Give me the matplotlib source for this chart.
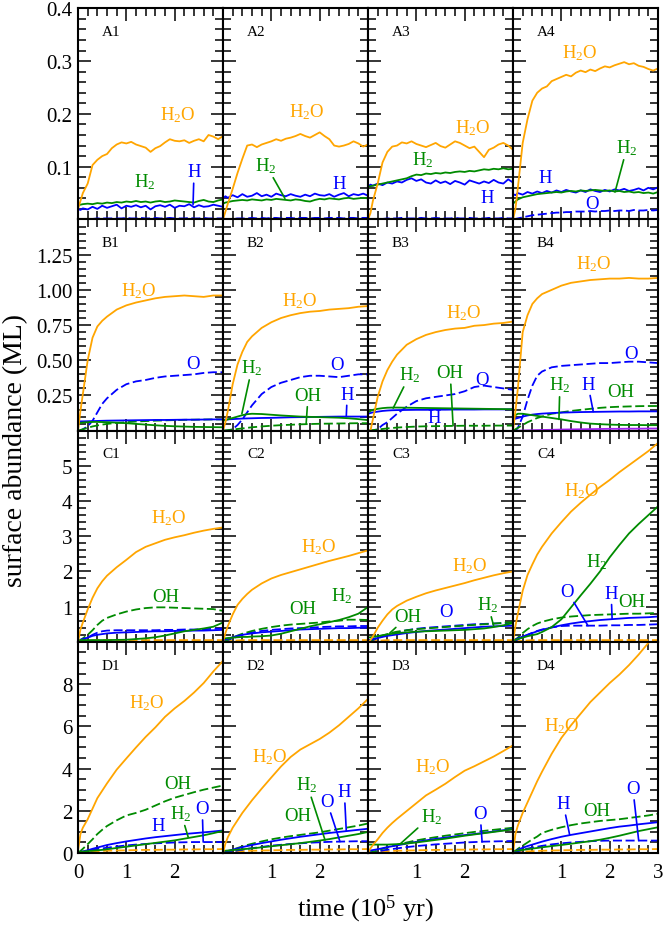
import matplotlib.pyplot as plt
from matplotlib.ticker import MultipleLocator

plt.rcParams['font.family'] = ['Liberation Serif', 'DejaVu Serif']
plt.rcParams['mathtext.fontset'] = 'custom'
plt.rcParams['mathtext.rm'] = 'Liberation Serif'
plt.rcParams['mathtext.it'] = 'Liberation Serif:italic'
plt.rcParams['mathtext.default'] = 'regular'

# time grids (10^5 yr)
TA = [0, 0.05, 0.1, 0.2, 0.3, 0.4, 0.5, 0.6, 0.7, 0.8, 0.9, 1.0, 1.1, 1.2, 1.3, 1.4,
      1.5, 1.6, 1.7, 1.8, 1.9, 2.0, 2.1, 2.2, 2.3, 2.4, 2.5, 2.6, 2.7, 2.8, 2.9, 3.0]
TS = [0, 0.05, 0.1, 0.2, 0.3, 0.4, 0.5, 0.6, 0.8, 1.0, 1.2, 1.4, 1.6, 1.8, 2.0, 2.2,
      2.4, 2.6, 2.8, 3.0]

# row A (noisy, on TA)
A1_H2O = [0.02, 0.035, 0.05, 0.068, 0.103, 0.113, 0.12, 0.124, 0.135, 0.142, 0.146, 0.144, 0.147, 0.142, 0.139, 0.136,
          0.128, 0.135, 0.139, 0.146, 0.152, 0.149, 0.148, 0.15, 0.145, 0.149, 0.152, 0.148, 0.16, 0.157, 0.152, 0.158]
A1_H2 = [0.027, 0.028, 0.029, 0.030, 0.029, 0.031, 0.030, 0.032, 0.031, 0.033, 0.032, 0.034, 0.033, 0.035, 0.033, 0.034,
         0.032, 0.034, 0.035, 0.033, 0.034, 0.036, 0.035, 0.034, 0.033, 0.032, 0.035, 0.037, 0.034, 0.033, 0.036, 0.038]
A1_H = [0.020, 0.018, 0.021, 0.019, 0.024, 0.020, 0.026, 0.022, 0.025, 0.028, 0.021, 0.026, 0.024, 0.027, 0.023, 0.026,
        0.019, 0.025, 0.027, 0.024, 0.028, 0.022, 0.026, 0.025, 0.029, 0.023, 0.027, 0.024, 0.025, 0.028, 0.026, 0.024]
A1_O = [0, 0, 0.001, 0.001, 0.001, 0.002, 0.002, 0.002, 0.002, 0.002, 0.002, 0.003, 0.002, 0.002, 0.003, 0.002,
        0.002, 0.003, 0.002, 0.002, 0.003, 0.002, 0.002, 0.002, 0.003, 0.002, 0.002, 0.003, 0.002, 0.002, 0.002, 0.002]

A2_H2O = [0, 0.015, 0.03, 0.058, 0.088, 0.115, 0.14, 0.142, 0.137, 0.142, 0.145, 0.148, 0.152, 0.149, 0.153, 0.155,
          0.158, 0.162, 0.158, 0.155, 0.16, 0.165, 0.158, 0.152, 0.14, 0.138, 0.14, 0.143, 0.148, 0.144, 0.138, 0.142]
A2_H2 = [0.03, 0.032, 0.033, 0.035, 0.036, 0.037, 0.036, 0.038, 0.037, 0.036, 0.038, 0.037, 0.039, 0.038, 0.037, 0.036,
         0.038, 0.037, 0.035, 0.034, 0.037, 0.039, 0.038, 0.04, 0.039, 0.038, 0.04, 0.041, 0.039, 0.04, 0.041, 0.04]
A2_H = [0.04, 0.044, 0.041, 0.046, 0.042, 0.048, 0.043, 0.045, 0.05, 0.044, 0.047, 0.043, 0.049, 0.046, 0.044, 0.048,
        0.045, 0.043, 0.047, 0.044, 0.049, 0.046, 0.045, 0.048, 0.043, 0.047, 0.05, 0.044, 0.048, 0.046, 0.049, 0.045]
A2_O = [0, 0, 0.001, 0.001, 0.002, 0.002, 0.002, 0.003, 0.002, 0.003, 0.002, 0.003, 0.003, 0.002, 0.003, 0.003,
        0.002, 0.003, 0.003, 0.002, 0.003, 0.003, 0.002, 0.003, 0.003, 0.003, 0.002, 0.003, 0.003, 0.002, 0.003, 0.003]

A3_H2O = [0, 0.012, 0.035, 0.068, 0.108, 0.128, 0.138, 0.14, 0.146, 0.144, 0.148, 0.143, 0.14, 0.137, 0.141, 0.145,
          0.139, 0.136, 0.142, 0.148, 0.145, 0.14, 0.135, 0.138, 0.128, 0.118, 0.132, 0.136, 0.142, 0.145, 0.14, 0.132]
A3_H2 = [0.062, 0.063, 0.064, 0.066, 0.068, 0.07, 0.072, 0.074, 0.076, 0.078, 0.082, 0.085, 0.084, 0.087, 0.086, 0.088,
         0.087, 0.089, 0.088, 0.09, 0.091, 0.09, 0.092, 0.091, 0.093, 0.095, 0.094, 0.096, 0.095, 0.097, 0.095, 0.096]
A3_H = [0.062, 0.066, 0.064, 0.068, 0.065, 0.07, 0.068, 0.072, 0.07, 0.075, 0.078, 0.073, 0.076, 0.07, 0.068, 0.074,
        0.069, 0.072, 0.067, 0.073, 0.07, 0.066, 0.074, 0.071, 0.068, 0.072, 0.069, 0.075, 0.07, 0.068, 0.076, 0.07]
A3_O = [0, 0, 0.001, 0.001, 0.001, 0.002, 0.002, 0.002, 0.003, 0.002, 0.002, 0.002, 0.003, 0.002, 0.002, 0.003,
        0.002, 0.002, 0.002, 0.003, 0.002, 0.002, 0.003, 0.002, 0.002, 0.002, 0.003, 0.002, 0.002, 0.003, 0.002, 0.002]

A4_H2O = [0, 0.02, 0.06, 0.145, 0.19, 0.225, 0.24, 0.248, 0.252, 0.262, 0.266, 0.27, 0.274, 0.271, 0.278, 0.282,
          0.279, 0.284, 0.281, 0.286, 0.29, 0.288, 0.292, 0.295, 0.298, 0.294, 0.296, 0.291, 0.289, 0.285, 0.282, 0.286]
A4_H2 = [0.03, 0.034, 0.038, 0.042, 0.044, 0.046, 0.048, 0.049, 0.05, 0.051, 0.052, 0.051, 0.053, 0.054, 0.053, 0.055,
         0.054, 0.055, 0.056, 0.055, 0.054, 0.055, 0.053, 0.054, 0.052, 0.053, 0.051, 0.052, 0.05, 0.051, 0.049, 0.052]
A4_H = [0.048, 0.046, 0.05, 0.047, 0.052, 0.049, 0.053, 0.05, 0.054, 0.051, 0.055, 0.052, 0.056, 0.053, 0.051, 0.055,
        0.052, 0.057, 0.054, 0.052, 0.056, 0.053, 0.057, 0.055, 0.058, 0.054, 0.056, 0.059, 0.055, 0.06, 0.057, 0.061]
A4_O = [0, 0.001, 0.002, 0.004, 0.006, 0.008, 0.009, 0.01, 0.011, 0.012, 0.013, 0.013, 0.014, 0.014, 0.015, 0.015,
        0.015, 0.016, 0.015, 0.016, 0.016, 0.017, 0.016, 0.017, 0.017, 0.016, 0.018, 0.017, 0.017, 0.018, 0.017, 0.018]

# rows B-D (on TS)
B1_H2O = [0, 0.14, 0.26, 0.5, 0.66, 0.74, 0.78, 0.81, 0.86, 0.89, 0.91, 0.925, 0.94, 0.95, 0.955, 0.96, 0.955, 0.95, 0.96, 0.96]
B1_O = [0, 0, 0.01, 0.03, 0.07, 0.13, 0.19, 0.23, 0.29, 0.33, 0.35, 0.36, 0.375, 0.385, 0.39, 0.395, 0.4, 0.41, 0.415, 0.415]
B1_H = [0.065, 0.066, 0.066, 0.067, 0.068, 0.069, 0.07, 0.071, 0.072, 0.073, 0.074, 0.075, 0.076, 0.076, 0.077, 0.078, 0.078, 0.079, 0.08, 0.08]
B1_H2 = [0.05, 0.055, 0.058, 0.06, 0.062, 0.062, 0.061, 0.06, 0.057, 0.053, 0.048, 0.043, 0.038, 0.034, 0.031, 0.029, 0.027, 0.026, 0.025, 0.024]
B1_OH = [0, 0.005, 0.01, 0.02, 0.03, 0.037, 0.043, 0.048, 0.055, 0.06, 0.065, 0.068, 0.071, 0.073, 0.075, 0.077, 0.078, 0.079, 0.08, 0.08]

B2_H2O = [0, 0.06, 0.14, 0.33, 0.47, 0.56, 0.63, 0.67, 0.73, 0.77, 0.8, 0.82, 0.835, 0.845, 0.85, 0.86, 0.865, 0.87, 0.88, 0.885]
B2_O = [0, 0, 0, 0.01, 0.04, 0.08, 0.13, 0.18, 0.26, 0.31, 0.34, 0.36, 0.38, 0.39, 0.39, 0.385, 0.38, 0.39, 0.4, 0.4]
B2_H2 = [0.07, 0.075, 0.08, 0.09, 0.1, 0.11, 0.117, 0.12, 0.118, 0.113, 0.108, 0.104, 0.1, 0.098, 0.096, 0.094, 0.092, 0.088, 0.082, 0.075]
B2_H = [0.078, 0.079, 0.08, 0.082, 0.084, 0.086, 0.087, 0.088, 0.09, 0.091, 0.093, 0.095, 0.096, 0.097, 0.098, 0.099, 0.1, 0.1, 0.1, 0.1]
B2_OH = [0, 0.002, 0.004, 0.008, 0.012, 0.016, 0.02, 0.024, 0.03, 0.035, 0.039, 0.042, 0.045, 0.047, 0.049, 0.05, 0.051, 0.052, 0.053, 0.053]

B3_H2O = [0, 0, 0.08, 0.24, 0.35, 0.43, 0.49, 0.54, 0.61, 0.65, 0.68, 0.7, 0.715, 0.725, 0.73, 0.745, 0.75, 0.76, 0.765, 0.775]
B3_O = [0, 0, 0, 0.01, 0.04, 0.06, 0.09, 0.12, 0.17, 0.21, 0.23, 0.24, 0.25, 0.26, 0.28, 0.31, 0.32, 0.31, 0.3, 0.29]
B3_H2 = [0.13, 0.14, 0.148, 0.155, 0.16, 0.163, 0.164, 0.164, 0.163, 0.162, 0.161, 0.16, 0.159, 0.158, 0.157, 0.156, 0.155, 0.154, 0.153, 0.152]
B3_H = [0.12, 0.125, 0.13, 0.135, 0.14, 0.143, 0.145, 0.146, 0.147, 0.148, 0.148, 0.149, 0.149, 0.15, 0.15, 0.15, 0.151, 0.151, 0.151, 0.152]
B3_OH = [0, 0.002, 0.004, 0.008, 0.012, 0.016, 0.019, 0.022, 0.026, 0.029, 0.031, 0.032, 0.033, 0.034, 0.035, 0.035, 0.035, 0.036, 0.036, 0.036]

B4_H2O = [0, 0.14, 0.3, 0.7, 0.82, 0.9, 0.94, 0.97, 1.0, 1.03, 1.05, 1.06, 1.07, 1.075, 1.08, 1.08, 1.085, 1.08, 1.08, 1.085]
B4_O = [0, 0, 0.02, 0.1, 0.22, 0.32, 0.39, 0.42, 0.45, 0.46, 0.465, 0.47, 0.475, 0.48, 0.48, 0.485, 0.49, 0.49, 0.485, 0.48]
B4_H = [0.08, 0.085, 0.09, 0.1, 0.108, 0.114, 0.118, 0.121, 0.125, 0.128, 0.13, 0.132, 0.133, 0.134, 0.135, 0.136, 0.136, 0.137, 0.137, 0.137]
B4_H2 = [0.1, 0.11, 0.12, 0.12, 0.115, 0.11, 0.105, 0.1, 0.09, 0.08, 0.068, 0.058, 0.05, 0.046, 0.043, 0.041, 0.04, 0.04, 0.039, 0.039]
B4_OH = [0, 0.01, 0.02, 0.04, 0.06, 0.075, 0.09, 0.1, 0.12, 0.13, 0.14, 0.148, 0.155, 0.162, 0.167, 0.17, 0.172, 0.174, 0.175, 0.175]
B4_MINOR = [0, 0, 0, 0.001, 0.002, 0.003, 0.004, 0.005, 0.006, 0.008, 0.009, 0.01, 0.011, 0.012, 0.013, 0.013, 0.014, 0.014, 0.015, 0.015]

C1_H2O = [0, 0.35, 0.55, 0.92, 1.25, 1.52, 1.72, 1.88, 2.12, 2.33, 2.55, 2.7, 2.8, 2.9, 2.97, 3.03, 3.1, 3.16, 3.21, 3.25]
C1_OH = [0, 0.05, 0.1, 0.2, 0.33, 0.48, 0.6, 0.68, 0.78, 0.86, 0.92, 0.96, 0.98, 0.98, 0.97, 0.96, 0.95, 0.94, 0.93, 0.88]
C1_H = [0.05, 0.06, 0.08, 0.12, 0.17, 0.2, 0.22, 0.24, 0.26, 0.27, 0.28, 0.29, 0.3, 0.3, 0.31, 0.31, 0.32, 0.32, 0.33, 0.34]
C1_O = [0, 0.02, 0.05, 0.12, 0.2, 0.26, 0.3, 0.32, 0.33, 0.33, 0.33, 0.33, 0.33, 0.34, 0.34, 0.35, 0.35, 0.36, 0.37, 0.38]
C1_H2 = [0.05, 0.05, 0.05, 0.05, 0.05, 0.05, 0.05, 0.05, 0.055, 0.06, 0.08, 0.1, 0.13, 0.18, 0.24, 0.3, 0.34, 0.38, 0.43, 0.55]

C2_H2O = [0, 0.25, 0.45, 0.78, 1.05, 1.22, 1.36, 1.48, 1.66, 1.8, 1.9, 1.98, 2.06, 2.14, 2.22, 2.3, 2.37, 2.44, 2.52, 2.6]
C2_H2 = [0.1, 0.1, 0.11, 0.12, 0.13, 0.14, 0.14, 0.15, 0.16, 0.18, 0.23, 0.3, 0.37, 0.44, 0.5, 0.56, 0.62, 0.7, 0.8, 0.99]
C2_OH = [0, 0.03, 0.06, 0.12, 0.18, 0.23, 0.27, 0.31, 0.37, 0.42, 0.46, 0.49, 0.51, 0.53, 0.55, 0.58, 0.6, 0.63, 0.63, 0.62]
C2_H = [0.05, 0.07, 0.09, 0.13, 0.17, 0.2, 0.22, 0.24, 0.27, 0.29, 0.31, 0.33, 0.35, 0.36, 0.37, 0.38, 0.39, 0.39, 0.4, 0.4]
C2_O = [0, 0.02, 0.05, 0.1, 0.15, 0.2, 0.24, 0.27, 0.31, 0.34, 0.36, 0.38, 0.39, 0.4, 0.42, 0.43, 0.44, 0.44, 0.45, 0.45]

C3_H2O = [0, 0.05, 0.15, 0.4, 0.6, 0.78, 0.92, 1.02, 1.17, 1.28, 1.38, 1.46, 1.53, 1.6, 1.67, 1.75, 1.82, 1.89, 1.95, 2.0]
C3_H2 = [0.12, 0.13, 0.14, 0.16, 0.19, 0.21, 0.23, 0.25, 0.27, 0.29, 0.3, 0.31, 0.32, 0.33, 0.34, 0.36, 0.38, 0.42, 0.47, 0.53]
C3_OH = [0, 0.03, 0.06, 0.12, 0.18, 0.22, 0.26, 0.29, 0.33, 0.36, 0.38, 0.4, 0.42, 0.44, 0.46, 0.48, 0.5, 0.52, 0.54, 0.56]
C3_H = [0.05, 0.06, 0.08, 0.11, 0.14, 0.17, 0.19, 0.21, 0.25, 0.28, 0.31, 0.33, 0.35, 0.37, 0.39, 0.41, 0.43, 0.44, 0.45, 0.46]
C3_O = [0, 0.02, 0.05, 0.1, 0.16, 0.2, 0.24, 0.27, 0.33, 0.37, 0.4, 0.42, 0.44, 0.46, 0.48, 0.5, 0.51, 0.52, 0.53, 0.54]

C4_H2O = [0, 0.45, 0.8, 1.45, 1.9, 2.2, 2.48, 2.7, 3.08, 3.4, 3.7, 3.95, 4.18, 4.4, 4.6, 4.82, 5.02, 5.22, 5.42, 5.65]
C4_H2 = [0.05, 0.06, 0.08, 0.12, 0.16, 0.19, 0.22, 0.28, 0.42, 0.64, 0.98, 1.32, 1.65, 2.0, 2.4, 2.75, 3.08, 3.35, 3.6, 3.85]
C4_OH = [0, 0.06, 0.12, 0.25, 0.36, 0.45, 0.52, 0.57, 0.64, 0.69, 0.72, 0.74, 0.76, 0.77, 0.78, 0.79, 0.8, 0.8, 0.81, 0.82]
C4_H = [0.05, 0.07, 0.1, 0.15, 0.2, 0.25, 0.3, 0.34, 0.41, 0.47, 0.52, 0.56, 0.59, 0.62, 0.64, 0.66, 0.68, 0.69, 0.7, 0.72]
C4_O = [0, 0.03, 0.07, 0.14, 0.2, 0.26, 0.31, 0.35, 0.41, 0.45, 0.46, 0.46, 0.46, 0.46, 0.47, 0.47, 0.48, 0.48, 0.49, 0.5]

C_MINOR = [0, 0.01, 0.02, 0.03, 0.04, 0.05, 0.05, 0.05, 0.05, 0.05, 0.05, 0.05, 0.05, 0.05, 0.05, 0.05, 0.05, 0.05, 0.05, 0.05]

D1_H2O = [0.1, 0.9, 1.2, 1.6, 2.1, 2.6, 2.95, 3.3, 3.95, 4.48, 5.0, 5.5, 5.95, 6.45, 6.85, 7.2, 7.6, 8.05, 8.6, 9.1]
D1_OH = [0, 0.1, 0.2, 0.42, 0.65, 0.9, 1.1, 1.28, 1.55, 1.78, 1.9, 2.05, 2.25, 2.45, 2.62, 2.75, 2.88, 3.0, 3.1, 3.2]
D1_H = [0.05, 0.06, 0.08, 0.13, 0.2, 0.26, 0.32, 0.38, 0.47, 0.55, 0.62, 0.69, 0.75, 0.8, 0.85, 0.9, 0.94, 0.98, 1.02, 1.07]
D1_H2 = [0.05, 0.06, 0.07, 0.09, 0.11, 0.13, 0.15, 0.18, 0.24, 0.3, 0.36, 0.42, 0.48, 0.54, 0.6, 0.68, 0.76, 0.84, 0.94, 1.05]
D1_O = [0, 0.02, 0.05, 0.1, 0.15, 0.19, 0.22, 0.25, 0.31, 0.36, 0.4, 0.43, 0.46, 0.48, 0.5, 0.51, 0.52, 0.52, 0.52, 0.52]

D2_H2O = [0, 0.45, 0.75, 1.2, 1.55, 1.9, 2.2, 2.5, 3.05, 3.58, 4.1, 4.55, 4.9, 5.15, 5.4, 5.7, 6.05, 6.45, 6.85, 7.3]
D2_OH = [0, 0.04, 0.08, 0.16, 0.24, 0.31, 0.38, 0.44, 0.55, 0.65, 0.73, 0.8, 0.86, 0.92, 0.98, 1.06, 1.14, 1.22, 1.3, 1.4]
D2_H = [0.05, 0.07, 0.1, 0.16, 0.22, 0.28, 0.33, 0.38, 0.47, 0.55, 0.63, 0.7, 0.77, 0.83, 0.89, 0.95, 1.0, 1.05, 1.1, 1.15]
D2_H2 = [0.1, 0.11, 0.12, 0.14, 0.16, 0.18, 0.2, 0.22, 0.27, 0.32, 0.37, 0.42, 0.47, 0.53, 0.59, 0.66, 0.74, 0.82, 0.9, 1.0]
D2_O = [0, 0.02, 0.04, 0.08, 0.12, 0.16, 0.2, 0.23, 0.29, 0.35, 0.39, 0.43, 0.46, 0.49, 0.51, 0.53, 0.54, 0.55, 0.56, 0.56]

D3_H2O = [0, 0.22, 0.38, 0.65, 0.95, 1.2, 1.42, 1.62, 1.99, 2.36, 2.73, 3.0, 3.28, 3.6, 3.9, 4.11, 4.34, 4.57, 4.83, 5.1]
D3_H2 = [0.4, 0.4, 0.4, 0.4, 0.4, 0.4, 0.41, 0.42, 0.45, 0.5, 0.56, 0.62, 0.68, 0.75, 0.82, 0.88, 0.94, 1.0, 1.06, 1.12]
D3_OH = [0, 0.03, 0.06, 0.12, 0.2, 0.27, 0.33, 0.39, 0.5, 0.6, 0.68, 0.75, 0.82, 0.88, 0.94, 1.0, 1.05, 1.1, 1.15, 1.2]
D3_H = [0.1, 0.12, 0.14, 0.18, 0.23, 0.28, 0.32, 0.36, 0.45, 0.53, 0.6, 0.67, 0.73, 0.79, 0.85, 0.9, 0.96, 1.02, 1.08, 1.14]
D3_O = [0, 0.02, 0.04, 0.08, 0.12, 0.16, 0.19, 0.22, 0.28, 0.33, 0.37, 0.41, 0.44, 0.47, 0.5, 0.52, 0.54, 0.55, 0.56, 0.57]

D4_H2O = [0, 0.9, 1.3, 1.9, 2.4, 2.9, 3.4, 3.85, 4.7, 5.45, 6.05, 6.6, 7.15, 7.6, 8.05, 8.45, 8.9, 9.4, 9.95, 10.5]
D4_OH = [0, 0.1, 0.2, 0.35, 0.5, 0.65, 0.78, 0.95, 1.1, 1.22, 1.32, 1.4, 1.46, 1.52, 1.56, 1.6, 1.66, 1.72, 1.78, 1.86]
D4_H = [0.05, 0.1, 0.15, 0.25, 0.33, 0.4, 0.47, 0.54, 0.66, 0.77, 0.86, 0.94, 1.02, 1.1, 1.18, 1.25, 1.3, 1.36, 1.41, 1.46]
D4_H2 = [0.1, 0.11, 0.12, 0.15, 0.18, 0.21, 0.24, 0.27, 0.33, 0.38, 0.44, 0.5, 0.56, 0.63, 0.72, 0.82, 0.93, 1.04, 1.13, 1.22]
D4_O = [0, 0.04, 0.08, 0.15, 0.21, 0.26, 0.3, 0.34, 0.41, 0.46, 0.5, 0.53, 0.56, 0.58, 0.59, 0.59, 0.59, 0.59, 0.59, 0.59]

D_MINOR = [0, 0.02, 0.04, 0.06, 0.08, 0.09, 0.1, 0.11, 0.12, 0.13, 0.14, 0.15, 0.15, 0.16, 0.16, 0.17, 0.17, 0.18, 0.18, 0.19]

ORANGE, GREEN, BLUE, PURPLE = '#ffa500', '#008b00', '#0000ff', '#a020f0'
DASH = (0, (5, 2))
STYLE = {
    'minor': (ORANGE, DASH), 'purple': (PURPLE, '-'),
    'O': (BLUE, DASH), 'OH': (GREEN, DASH), 'H': (BLUE, '-'),
    'H2': (GREEN, '-'), 'H2O': (ORANGE, '-'),
}
TEXT = {'H2O': 'H$_2$O', 'H2': 'H$_2$', 'OH': 'OH', 'H': 'H', 'O': 'O'}

PANELS = {
    'A1': {'O': A1_O, 'H': A1_H, 'H2': A1_H2, 'H2O': A1_H2O},
    'A2': {'O': A2_O, 'H': A2_H, 'H2': A2_H2, 'H2O': A2_H2O},
    'A3': {'O': A3_O, 'H': A3_H, 'H2': A3_H2, 'H2O': A3_H2O},
    'A4': {'O': A4_O, 'H': A4_H, 'H2': A4_H2, 'H2O': A4_H2O},
    'B1': {'O': B1_O, 'OH': B1_OH, 'H': B1_H, 'H2': B1_H2, 'H2O': B1_H2O},
    'B2': {'O': B2_O, 'OH': B2_OH, 'H': B2_H, 'H2': B2_H2, 'H2O': B2_H2O},
    'B3': {'O': B3_O, 'OH': B3_OH, 'H': B3_H, 'H2': B3_H2, 'H2O': B3_H2O},
    'B4': {'purple': B4_MINOR, 'O': B4_O, 'OH': B4_OH, 'H': B4_H, 'H2': B4_H2, 'H2O': B4_H2O},
    'C1': {'minor': C_MINOR, 'O': C1_O, 'OH': C1_OH, 'H': C1_H, 'H2': C1_H2, 'H2O': C1_H2O},
    'C2': {'minor': C_MINOR, 'O': C2_O, 'OH': C2_OH, 'H': C2_H, 'H2': C2_H2, 'H2O': C2_H2O},
    'C3': {'minor': C_MINOR, 'O': C3_O, 'OH': C3_OH, 'H': C3_H, 'H2': C3_H2, 'H2O': C3_H2O},
    'C4': {'minor': C_MINOR, 'O': C4_O, 'OH': C4_OH, 'H': C4_H, 'H2': C4_H2, 'H2O': C4_H2O},
    'D1': {'minor': D_MINOR, 'O': D1_O, 'OH': D1_OH, 'H': D1_H, 'H2': D1_H2, 'H2O': D1_H2O},
    'D2': {'minor': D_MINOR, 'O': D2_O, 'OH': D2_OH, 'H': D2_H, 'H2': D2_H2, 'H2O': D2_H2O},
    'D3': {'minor': D_MINOR, 'O': D3_O, 'OH': D3_OH, 'H': D3_H, 'H2': D3_H2, 'H2O': D3_H2O},
    'D4': {'minor': D_MINOR, 'O': D4_O, 'OH': D4_OH, 'H': D4_H, 'H2': D4_H2, 'H2O': D4_H2O},
}

# species labels: (species, x, y, leader end or None)
LABELS = {
    'A1': [('H2O', 2.07, 0.2, None), ('H2', 1.39, 0.072, None), ('H', 2.40, 0.09, (2.38, 0.028))],
    'A2': [('H2O', 1.74, 0.206, None), ('H2', 0.89, 0.103, (1.28, 0.04)), ('H', 2.40, 0.069, None)],
    'A3': [('H2O', 2.17, 0.175, None), ('H2', 1.14, 0.114, None), ('H', 2.46, 0.042, None)],
    'A4': [('H2O', 1.37, 0.316, None), ('H2', 2.36, 0.137, (2.11, 0.052)), ('H', 0.66, 0.08, None),
           ('O', 1.64, 0.03, None)],
    'B1': [('H2O', 1.26, 1.0, None), ('O', 2.38, 0.48, None)],
    'B2': [('H2O', 1.59, 0.93, None), ('O', 2.36, 0.47, None), ('H2', 0.6, 0.45, (0.39, 0.12)),
           ('OH', 1.76, 0.25, (1.72, 0.05)), ('H', 2.57, 0.26, (2.55, 0.1))],
    'B3': [('H2O', 1.97, 0.84, None), ('H2', 0.87, 0.40, (0.52, 0.16)), ('OH', 1.70, 0.41, (1.76, 0.035)),
           ('O', 2.36, 0.36, None), ('H', 1.37, 0.09, None)],
    'B4': [('H2O', 1.66, 1.19, None), ('O', 2.44, 0.55, None), ('H2', 0.97, 0.33, (0.95, 0.08)),
           ('H', 1.55, 0.33, (1.66, 0.135)), ('OH', 2.22, 0.28, None)],
    'C1': [('H2O', 1.88, 3.55, None), ('OH', 1.82, 1.3, None)],
    'C2': [('H2O', 1.97, 2.73, None), ('H2', 2.46, 1.32, None), ('OH', 1.64, 0.96, None)],
    'C3': [('H2O', 2.11, 2.17, None), ('OH', 0.83, 0.73, (0.45, 0.25)), ('O', 1.62, 0.87, None),
           ('H2', 2.48, 1.07, (2.6, 0.45))],
    'C4': [('H2O', 1.43, 4.3, None), ('H2', 1.74, 2.28, None), ('O', 1.12, 1.44, (1.55, 0.46)),
           ('H', 2.03, 1.38, (2.05, 0.66)), ('OH', 2.46, 1.15, None)],
    'D1': [('H2O', 1.43, 7.14, None), ('OH', 2.07, 3.3, None), ('H2', 2.13, 1.9, (2.28, 0.75)),
           ('O', 2.57, 2.1, (2.59, 0.52)), ('H', 1.66, 1.29, None)],
    'D2': [('H2O', 0.97, 4.6, None), ('H2', 1.74, 3.24, (2.11, 0.62)), ('OH', 1.55, 1.8, None),
           ('O', 2.15, 2.43, (2.42, 0.54)), ('H', 2.51, 2.9, (2.55, 1.05))],
    'D3': [('H2O', 1.33, 4.1, None), ('H2', 1.31, 1.76, (0.66, 0.42)), ('O', 2.32, 1.86, (2.36, 0.53))],
    'D4': [('H2O', 1.01, 6.06, None), ('H', 1.04, 2.33, (1.17, 0.88)), ('OH', 1.73, 2.0, None),
           ('O', 2.48, 3.05, (2.6, 0.59))],
}

ROWS = {
    'A': (0.4, [0, 0.1, 0.2, 0.3, 0.4], ['', '0.1', '0.2', '0.3', '0.4'], 0.02),
    'B': (1.5, [0, 0.25, 0.5, 0.75, 1.0, 1.25, 1.5], ['', '0.25', '0.50', '0.75', '1.00', '1.25', ''], 0.05),
    'C': (6, [0, 1, 2, 3, 4, 5, 6], ['', '1', '2', '3', '4', '5', ''], 0.2),
    'D': (10, [0, 2, 4, 6, 8, 10], ['0', '2', '4', '6', '8', ''], 0.5),
}
XLABELS = [['0', '1', '2', ''], ['', '1', '2', ''], ['', '1', '2', ''], ['', '1', '2', '3']]

fig, axes = plt.subplots(4, 4, figsize=(6.64, 9.28), dpi=100)
fig.subplots_adjust(left=0.1175, right=0.991, top=0.990, bottom=0.0797, wspace=0, hspace=0)

for r, row in enumerate('ABCD'):
    ymax, yticks, ylabels, yminor = ROWS[row]
    for c in range(4):
        ax = axes[r, c]
        name = f'{row}{c + 1}'
        t = TA if row == 'A' else TS
        for sp, vals in PANELS[name].items():
            color, ls = STYLE[sp]
            ax.plot(t, vals, color=color, linestyle=ls, lw=1.3)
        for sp, x, y, tip in LABELS[name]:
            color = STYLE[sp][0]
            if tip is None:
                ax.text(x, y, TEXT[sp], color=color, fontsize=13.5, ha='center', va='center')
            else:
                ax.annotate(TEXT[sp], xy=tip, xytext=(x, y), color=color, fontsize=13.5,
                            ha='center', va='center',
                            arrowprops=dict(arrowstyle='-', color=color, lw=1.2,
                                            shrinkA=0, shrinkB=0))
        ax.text(0.165, 0.89, name, transform=ax.transAxes, fontsize=11, va='center')

        ax.set_xlim(0, 3)
        ax.set_ylim(0, ymax)
        ax.set_xticks([0, 1, 2, 3])
        ax.set_yticks(yticks)
        ax.xaxis.set_minor_locator(MultipleLocator(0.2))
        ax.yaxis.set_minor_locator(MultipleLocator(yminor))
        ax.tick_params(which='both', direction='in', top=True, right=True, width=1.1, labelsize=15)
        ax.tick_params(which='major', length=9)
        ax.tick_params(which='minor', length=5.5)
        ax.tick_params(axis='y', pad=4)
        ax.tick_params(axis='x', pad=7)
        if c == 0:
            ax.set_yticklabels(ylabels)
        else:
            ax.tick_params(labelleft=False)
        if row == 'D':
            ax.set_xticklabels(XLABELS[c])
        else:
            ax.tick_params(labelbottom=False)
        for s in ax.spines.values():
            s.set_linewidth(1.5)

fig.text(0.024, 0.515, 'surface abundance (ML)', rotation=90, ha='center', va='center', fontsize=20)
fig.text(0.551, 0.0119, 'time (10$^5$ yr)', ha='center', va='baseline', fontsize=19)

fig.savefig('out.png', dpi=100)
